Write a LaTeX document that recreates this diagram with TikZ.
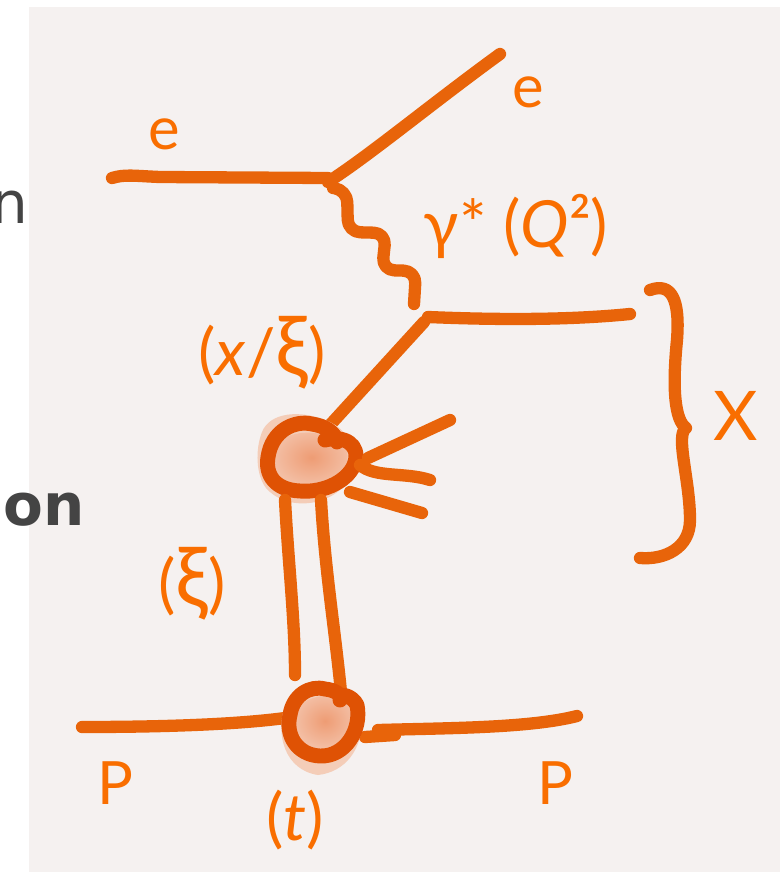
\documentclass[tikz,border=0pt]{standalone}
\usepackage{fontspec}
\setmainfont{Lato}
\newfontfamily\sidefont{DejaVu Sans}
\usetikzlibrary{positioning}
\definecolor{inkline}{HTML}{E8640A}
\definecolor{inkring}{HTML}{DF5204}
\definecolor{inktext}{HTML}{F96E00}
\definecolor{sheet}{HTML}{F5F1F0}
\definecolor{sidegray}{HTML}{444444}
\definecolor{halo}{HTML}{F4CDB8}
\definecolor{blobmid}{HTML}{EE9C74}
\definecolor{blobrim}{HTML}{F4C4AC}
\newcommand{\bigxi}{{\fontsize{47}{47}\selectfont ξ}}

\begin{document}
\begin{tikzpicture}[
        x=0.02cm, y=-0.02cm,
        stroke/.style={draw=inkline, line width=7pt, line cap=round, line join=round},
        ring/.style={draw=inkring, line width=8.5pt, line cap=round, line join=round},
        blob/.style={inner color=blobmid, outer color=blobrim},
        label/.style={text=inktext, inner sep=0pt, font=\fontsize{34}{38}\selectfont},
        biglabel/.style={label, font=\fontsize{37}{42}\selectfont},
        side/.style={text=sidegray, inner sep=0pt, font=\sidefont\fontsize{33}{38}\selectfont}
    ]
    \useasboundingbox (0,0) rectangle (780,872);
    \clip (0,0) rectangle (780,872);
    \path[fill=white] (0,0) rectangle (780,872);
    \path[fill=sheet] (29,7) rectangle (780,872);

    %% cut-off page text
    \node[side, anchor=base east] (sidetop) at (29,223) {n};
    \node[side, anchor=base east, font=\sidefont\bfseries\fontsize{33}{38}\selectfont] (sidebold) at (85,525) {on};

    %% vertices
    \coordinate (einstart) at (112,178);
    \coordinate (evertex) at (328,178);
    \coordinate (eoutend) at (500,54);
    \coordinate (photonstart) at (333,188);
    \coordinate (qvertex) at (414,304);
    \coordinate (qcorner) at (428,317);
    \coordinate (qend) at (630,314);

    %% electron and photon
    \draw[stroke] (einstart) .. controls (125,174) and (135,176) .. (160,177) -- (evertex);
    \draw[stroke] (328,182) .. controls (370,155) and (430,105) .. (eoutend);
    \draw[stroke, rounded corners=7pt] (photonstart) -- (347,190) -- (348,232) -- (386,233)
        -- (382,270) -- (416,271) -- (qvertex);

    %% struck quark
    \draw[stroke] (330,425) -- (424,322);
    \draw[stroke] (qcorner) .. controls (500,320) and (570,320) .. (qend);

    %% upper blob
    \path[fill=halo] (262,432) .. controls (270,412) and (300,410) .. (325,420)
        .. controls (355,430) and (365,470) .. (345,485)
        .. controls (325,508) and (285,510) .. (266,488)
        .. controls (256,475) and (255,450) .. (262,432) -- cycle;
    \path[blob] (271,455) .. controls (275,430) and (320,425) .. (345,445)
        .. controls (355,465) and (335,490) .. (305,490)
        .. controls (280,490) and (268,475) .. (271,455) -- cycle;
    \draw[ring] (325,440) .. controls (345,435) and (360,445) .. (355,462)
        .. controls (350,480) and (325,493) .. (300,491)
        .. controls (275,490) and (265,475) .. (268,457)
        .. controls (272,430) and (295,420) .. (312,424)
        .. controls (325,426) and (335,432) .. (337,442);

    %% fan of remnants
    \draw[stroke] (368,458) -- (450,420);
    \draw[stroke] (360,465) .. controls (375,478) and (405,472) .. (430,480);
    \draw[stroke] (350,492) -- (422,513);

    %% pair
    \draw[stroke] (285,500) .. controls (288,560) and (295,620) .. (295,675);
    \draw[stroke] (321,500) .. controls (325,570) and (335,630) .. (341,692);

    %% proton line
    \draw[stroke] (82,727) .. controls (170,727) and (240,724) .. (285,718);
    \draw[stroke] (365,737) -- (395,735);
    \draw[stroke] (378,730) .. controls (450,728) and (530,728) .. (577,716);

    %% lower blob
    \path[fill=halo] (285,705) .. controls (275,735) and (285,770) .. (318,775)
        .. controls (345,772) and (362,750) .. (362,720)
        .. controls (350,690) and (300,685) .. (285,705) -- cycle;
    \path[blob] (293,715) .. controls (298,695) and (340,690) .. (355,700)
        .. controls (360,730) and (345,752) .. (322,752)
        .. controls (300,752) and (290,735) .. (293,715) -- cycle;
    \draw[ring] (340,700) .. controls (338,692) and (352,695) .. (357,705)
        .. controls (362,730) and (345,757) .. (320,756)
        .. controls (297,755) and (285,735) .. (290,715)
        .. controls (293,695) and (310,685) .. (325,689)
        .. controls (335,690) and (343,695) .. (340,700);

    %% brace
    \draw[stroke] (650,290) .. controls (672,282) and (680,300) .. (677,340)
        .. controls (672,390) and (675,420) .. (686,428)
        .. controls (675,435) and (690,480) .. (690,520)
        .. controls (690,548) and (665,560) .. (640,558);

    %% labels
    \node[label] (elabelin) at (164,134) {e};
    \node[label] (elabelout) at (528,92) {e};
    \node[biglabel] (photon) at (516,226) {γ* (\textit{Q}²)};
    \node[biglabel] (quark) at (262,353) {(\textit{x}/\bigxi)};
    \node[biglabel] (pomeron) at (192,584) {(\bigxi)};
    \node[label, font=\fontsize{39}{42}\selectfont] (xlabel) at (736,416) {X};
    \node[label] (pin) at (115,783) {P};
    \node[label] (pout) at (555,783) {P};
    \node[biglabel] (tlabel) at (295,820) {(\textit{t})};
\end{tikzpicture}
\end{document}
